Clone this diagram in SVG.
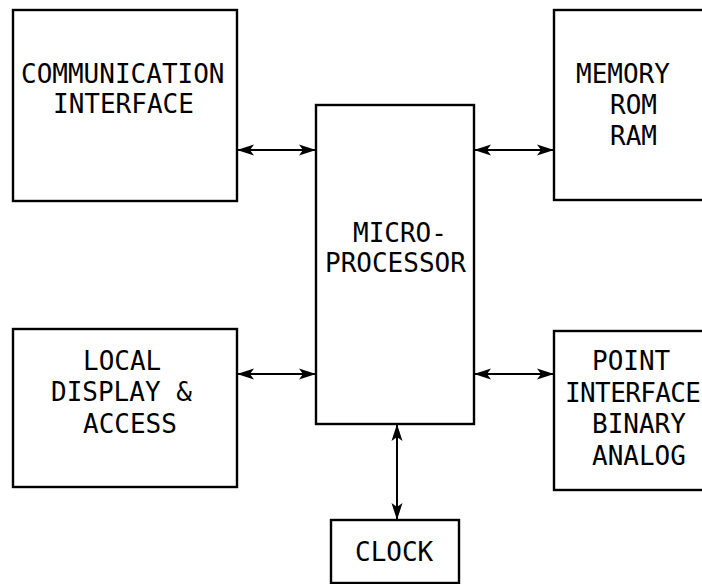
<svg xmlns="http://www.w3.org/2000/svg" width="702" height="584" viewBox="0 0 702 584">
<style>
.box{fill:none;stroke:#000;stroke-width:2.4}
.lbl{font-family:"DejaVu Sans Mono","Liberation Mono",monospace;font-size:26px;fill:#000}
.con{stroke:#000;stroke-width:2;fill:none;marker-start:url(#ah);marker-end:url(#ah)}
</style>
<defs>
<marker id="ah" markerUnits="userSpaceOnUse" markerWidth="18" markerHeight="12" refX="17" refY="6" orient="auto-start-reverse" viewBox="0 0 18 12">
<path d="M0,0.5 L17,6 L0,11.5 L4,6 Z" fill="#000"/>
</marker>
</defs>
<rect width="702" height="584" fill="#fff"/>
<g id="comm">
<rect class="box" x="13" y="10" width="224" height="191"/>
<text class="lbl" x="21" y="83">COMMUNICATION</text>
<text class="lbl" x="53" y="113">INTERFACE</text>
</g>
<g id="memory">
<rect class="box" x="554" y="10" width="160" height="190"/>
<text class="lbl" x="576" y="83">MEMORY</text>
<text class="lbl" x="610" y="114">ROM</text>
<text class="lbl" x="610" y="145">RAM</text>
</g>
<g id="micro">
<rect class="box" x="316" y="105" width="158" height="319"/>
<text class="lbl" x="353" y="242">MICRO-</text>
<text class="lbl" x="325" y="272">PROCESSOR</text>
</g>
<g id="local">
<rect class="box" x="13" y="329" width="224" height="158"/>
<text class="lbl" x="83" y="370">LOCAL</text>
<text class="lbl" x="51" y="401">DISPLAY &amp;</text>
<text class="lbl" x="83" y="433">ACCESS</text>
</g>
<g id="point">
<rect class="box" x="554" y="331" width="160" height="159"/>
<text class="lbl" x="592" y="370">POINT</text>
<text class="lbl" x="565" y="402" textLength="136" lengthAdjust="spacing">INTERFACE</text>
<text class="lbl" x="592" y="433">BINARY</text>
<text class="lbl" x="592" y="465">ANALOG</text>
</g>
<g id="clock">
<rect class="box" x="331" y="520" width="128" height="63"/>
<text class="lbl" x="355" y="561">CLOCK</text>
</g>
<g id="connectors">
<line class="con" x1="237" y1="150" x2="316" y2="150"/>
<line class="con" x1="474" y1="150" x2="554" y2="150"/>
<line class="con" x1="237" y1="374" x2="316" y2="374"/>
<line class="con" x1="474" y1="374" x2="554" y2="374"/>
<line class="con" x1="397" y1="424" x2="397" y2="520"/>
</g>
</svg>
